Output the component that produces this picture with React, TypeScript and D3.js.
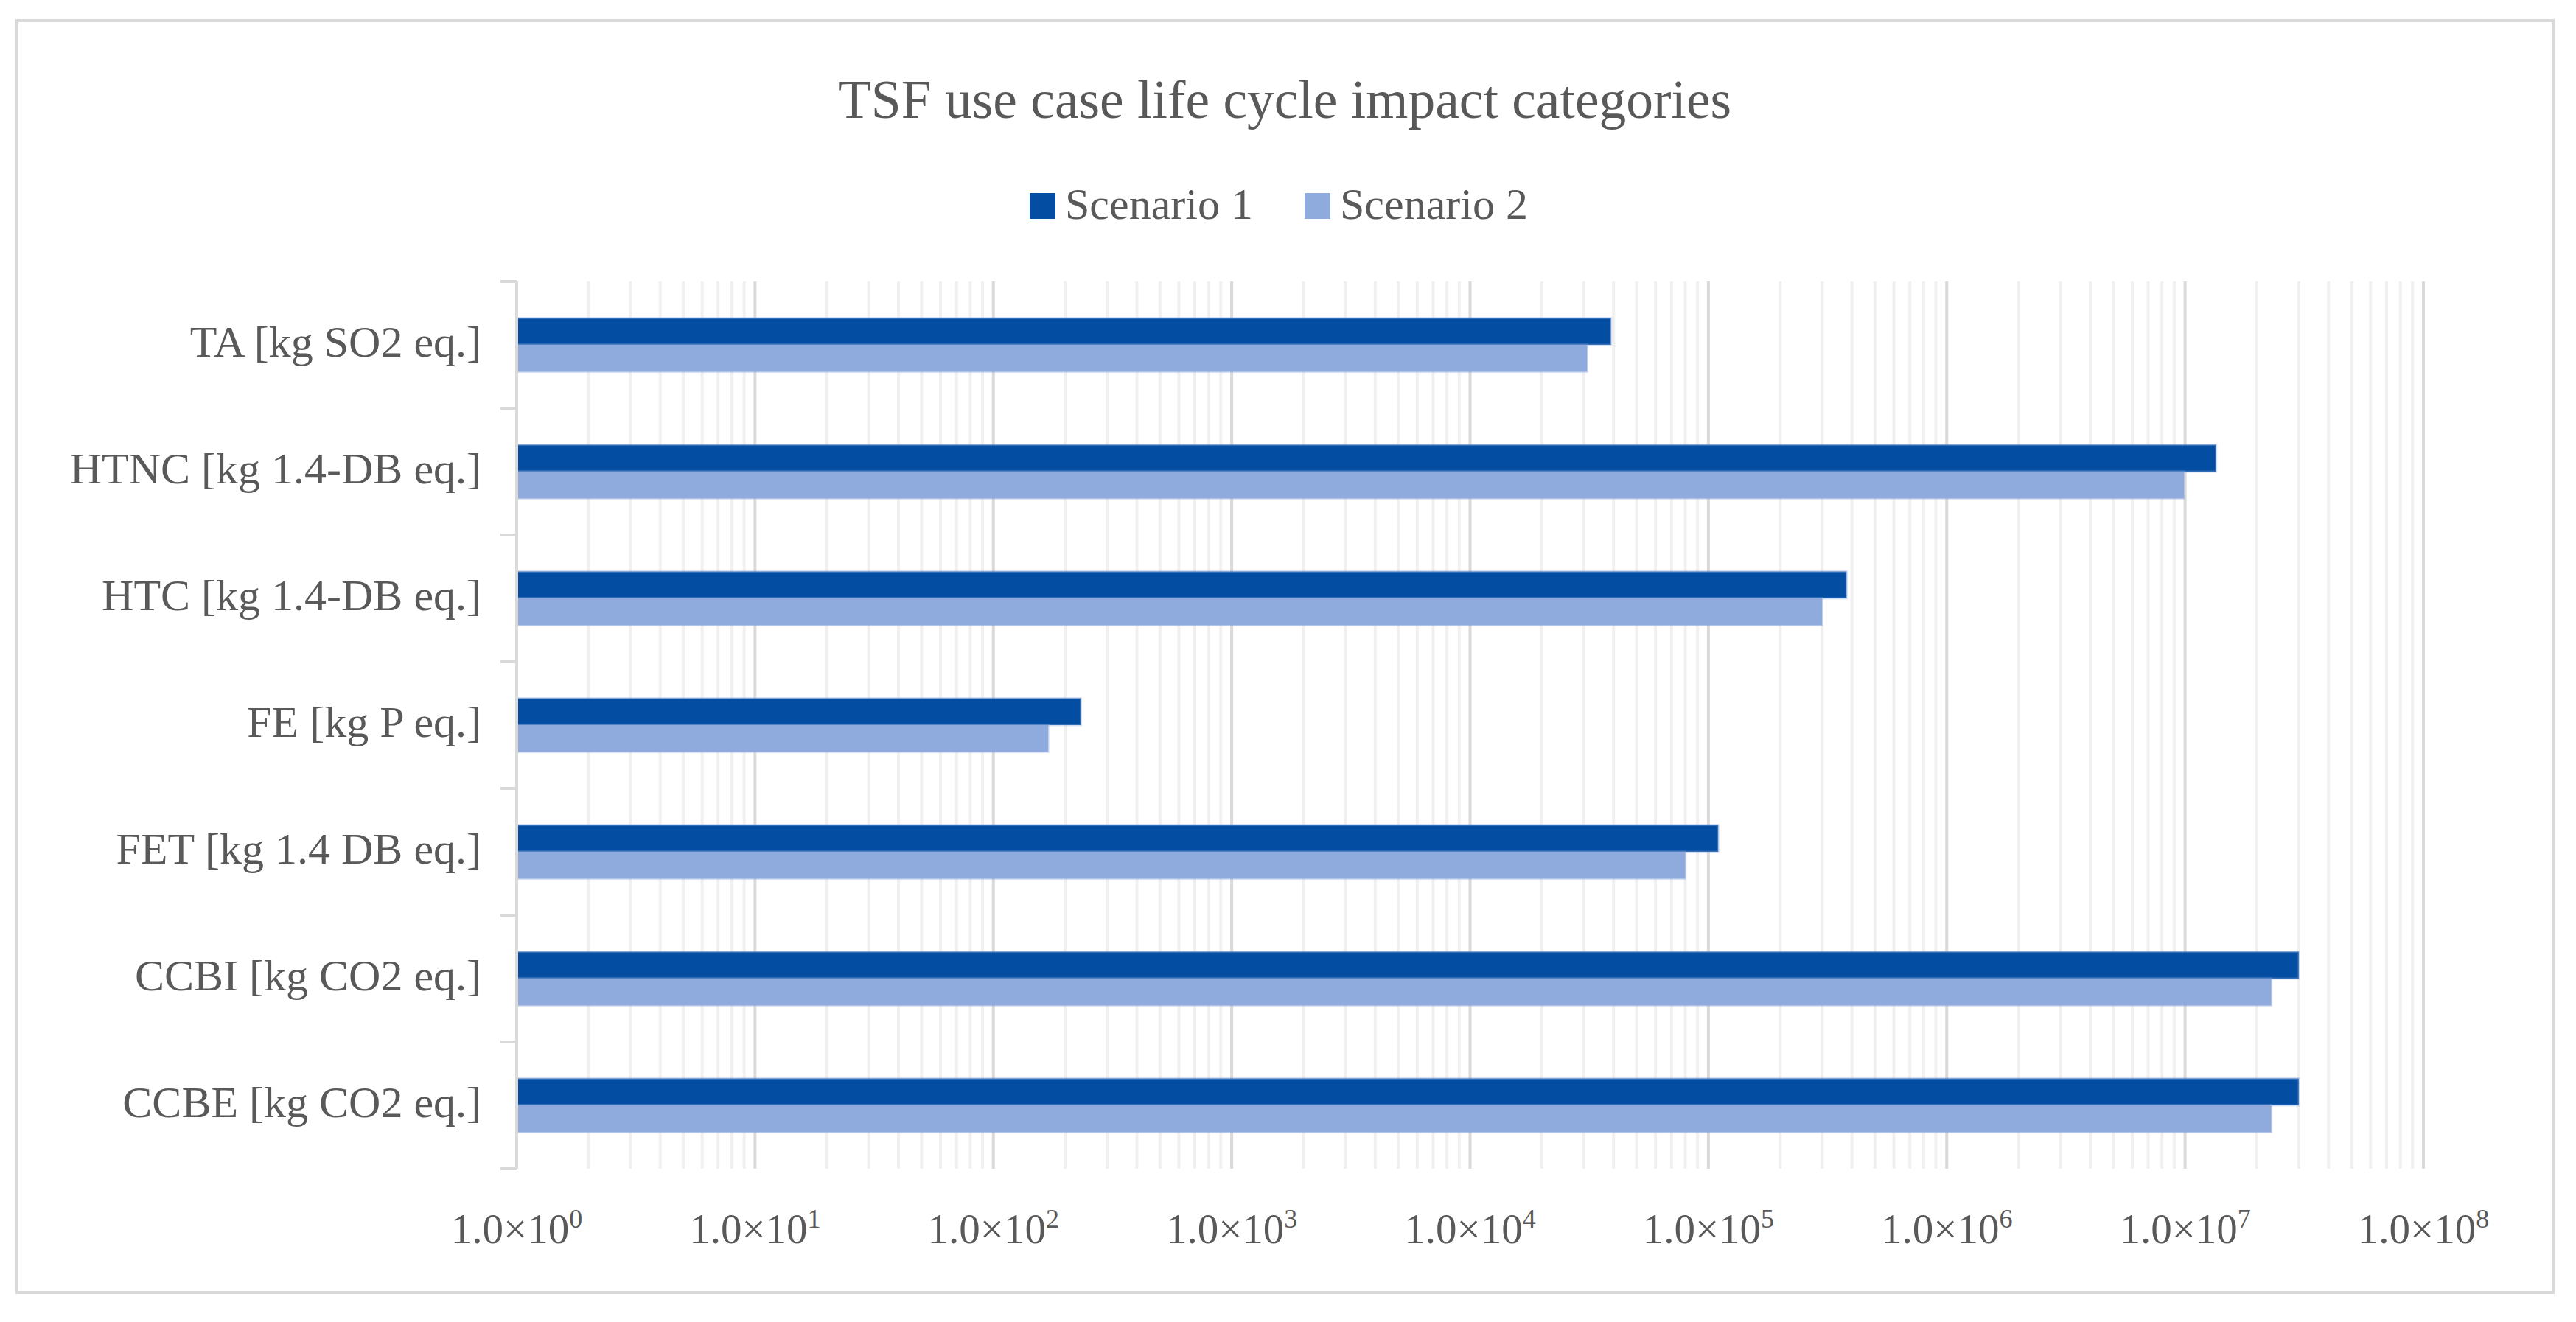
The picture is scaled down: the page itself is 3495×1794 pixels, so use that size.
import { useRef, useEffect } from "react"
import * as d3 from "d3"

const title = "TSF use case life cycle impact categories"
const categories = [
  "TA [kg SO2 eq.]",
  "HTNC [kg 1.4-DB eq.]",
  "HTC [kg 1.4-DB eq.]",
  "FE [kg P eq.]",
  "FET [kg 1.4 DB eq.]",
  "CCBI [kg CO2 eq.]",
  "CCBE [kg CO2 eq.]",
]
const seriesNames = ["Scenario 1", "Scenario 2"]
const scenario1 = [3.9e4, 1.35e7, 3.8e5, 233, 1.1e5, 3.0e7, 3.0e7]
const scenario2 = [3.1e4, 9.9e6, 3.0e5, 170, 8.0e4, 2.3e7, 2.3e7]
const tickExponents = [0, 1, 2, 3, 4, 5, 6, 7, 8]
const colors = ["#034EA2", "#8FAADC"]

export default function App() {
  const svgRef = useRef<SVGSVGElement>(null)

  function drawChart() {
    const width = 3495
    const height = 1794
    const left = 701
    const right = 3288
    const top = 382
    const bottom = 1586
    const fontFamily = "'Liberation Serif', 'Times New Roman', serif"
    const textColor = "#595959"

    const svg = d3.select(svgRef.current).attr("width", width).attr("height", height)
    svg.selectAll("*").remove()

    svg.append("rect").attr("width", width).attr("height", height).attr("fill", "#ffffff")

    // outer frame
    svg
      .append("rect")
      .attr("x", 23)
      .attr("y", 28)
      .attr("width", 3464 - 23)
      .attr("height", 1754 - 28)
      .attr("fill", "none")
      .attr("stroke", "#d9d9d9")
      .attr("stroke-width", 4)

    // title
    svg
      .append("text")
      .text(title)
      .attr("x", 1743)
      .attr("y", 160)
      .attr("text-anchor", "middle")
      .style("font-size", "73.5px")
      .style("font-family", fontFamily)
      .style("fill", textColor)

    // legend
    const legendX = [1397, 1770]
    const legend = svg.append("g").attr("id", "legend")
    const items = legend
      .selectAll("g")
      .data(seriesNames)
      .enter()
      .append("g")
      .attr("transform", (d, i) => `translate(${legendX[i]}, 0)`)
    items
      .append("rect")
      .attr("x", 0)
      .attr("y", 262)
      .attr("width", 35)
      .attr("height", 35)
      .attr("fill", (d, i) => colors[i])
    items
      .append("text")
      .text((d) => d)
      .attr("x", 48)
      .attr("y", 297)
      .style("font-size", "60px")
      .style("font-family", fontFamily)
      .style("fill", textColor)

    const xScale = d3.scaleLog().domain([1, 1e8]).range([left, right])
    const yScale = d3.scaleBand<string>().domain(categories).range([top, bottom]).padding(0)
    const subScale = d3
      .scaleBand<string>()
      .domain(seriesNames)
      .range([0, yScale.bandwidth()])
      .paddingInner(0)
      .paddingOuter(1.356)

    // gridlines
    const allTicks = xScale.ticks()
    const isMajor = (v: number) => Math.abs(Math.log10(v) - Math.round(Math.log10(v))) < 1e-9
    const grid = svg.append("g").attr("id", "grid")
    grid
      .selectAll("line.minor")
      .data(allTicks.filter((v) => !isMajor(v)))
      .enter()
      .append("line")
      .attr("class", "minor")
      .attr("x1", (d) => xScale(d))
      .attr("x2", (d) => xScale(d))
      .attr("y1", top)
      .attr("y2", bottom)
      .attr("stroke", "#f0f0f0")
      .attr("stroke-width", 4)
    grid
      .selectAll("line.major")
      .data(tickExponents.slice(1))
      .enter()
      .append("line")
      .attr("class", "major")
      .attr("x1", (d) => xScale(Math.pow(10, d)))
      .attr("x2", (d) => xScale(Math.pow(10, d)))
      .attr("y1", top)
      .attr("y2", bottom)
      .attr("stroke", "#d9d9d9")
      .attr("stroke-width", 4)

    // bars
    const rows = categories.map((c, i) => ({ category: c, values: [scenario1[i], scenario2[i]] }))
    const barGroups = svg
      .append("g")
      .attr("id", "bars")
      .selectAll("g")
      .data(rows)
      .enter()
      .append("g")
      .attr("transform", (d) => `translate(0, ${yScale(d.category)})`)
    barGroups
      .selectAll("rect")
      .data((d) => d.values.map((v, i) => ({ series: seriesNames[i], value: v, i })))
      .enter()
      .append("rect")
      .attr("x", xScale(1))
      .attr("y", (d) => subScale(d.series) as number)
      .attr("width", (d) => xScale(d.value) - xScale(1))
      .attr("height", subScale.bandwidth())
      .attr("fill", (d) => colors[d.i])
      .attr("stroke", "rgba(143,170,220,0.35)")
      .attr("stroke-width", 3)

    // left axis
    const axisColor = "#d9d9d9"
    const leftAxis = svg.append("g").attr("id", "leftAxis")
    leftAxis
      .append("line")
      .attr("x1", left)
      .attr("x2", left)
      .attr("y1", top)
      .attr("y2", bottom)
      .attr("stroke", axisColor)
      .attr("stroke-width", 4)
    const boundaries = categories.map((c) => yScale(c) as number).concat([bottom])
    leftAxis
      .selectAll("line.tick")
      .data(boundaries)
      .enter()
      .append("line")
      .attr("class", "tick")
      .attr("x1", left - 22)
      .attr("x2", left)
      .attr("y1", (d) => d)
      .attr("y2", (d) => d)
      .attr("stroke", axisColor)
      .attr("stroke-width", 4)
    leftAxis
      .selectAll("text")
      .data(categories)
      .enter()
      .append("text")
      .text((d) => d)
      .attr("x", left - 48)
      .attr("y", (d) => (yScale(d) as number) + yScale.bandwidth() / 2 + 16)
      .attr("text-anchor", "end")
      .style("font-size", "60px")
      .style("font-family", fontFamily)
      .style("fill", textColor)

    // bottom axis labels
    const labels = svg
      .append("g")
      .attr("id", "bottomAxis")
      .selectAll("text")
      .data(tickExponents)
      .enter()
      .append("text")
      .attr("x", (d) => xScale(Math.pow(10, d)))
      .attr("y", 1687)
      .attr("text-anchor", "middle")
      .style("font-size", "57px")
      .style("font-family", fontFamily)
      .style("fill", textColor)
    labels.append("tspan").text("1.0×10")
    labels
      .append("tspan")
      .text((d) => String(d))
      .attr("dy", -21)
      .style("font-size", "36px")
  }

  useEffect(() => {
    drawChart()
  }, [svgRef])

  return (
    <div style={{ position: "absolute", left: 0, top: 0 }}>
      <svg ref={svgRef} style={{ display: "block" }}></svg>
    </div>
  )
}
